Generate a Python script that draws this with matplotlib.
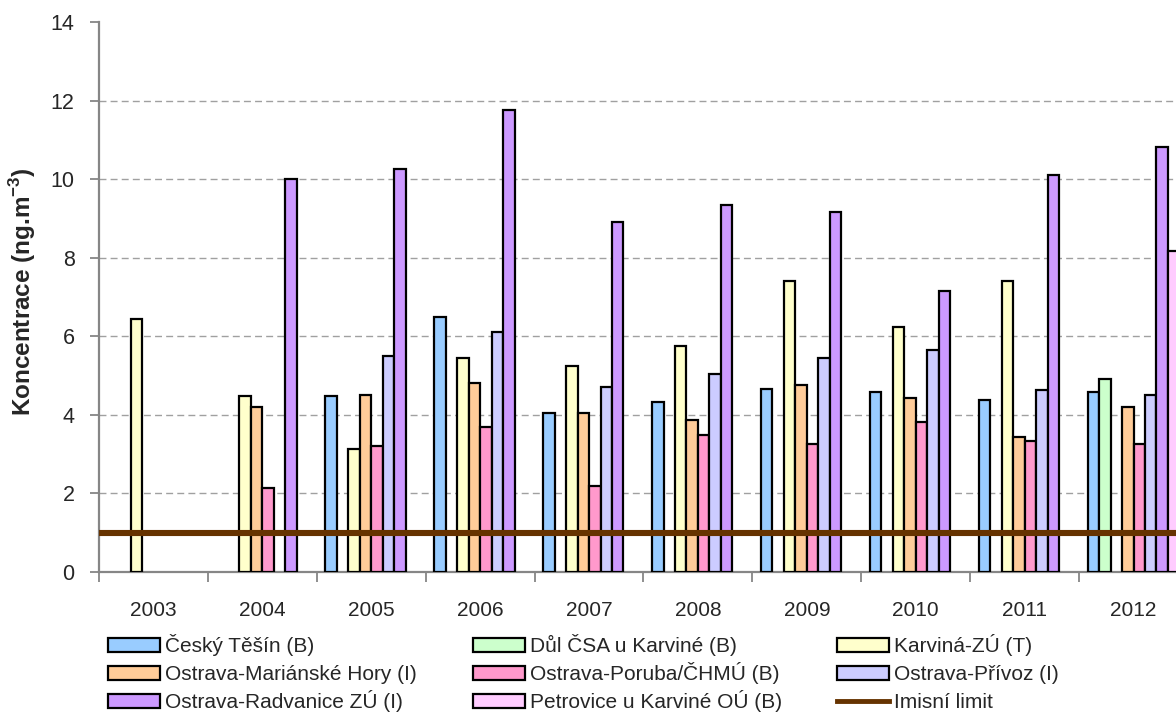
import numpy as np
import matplotlib
matplotlib.use("Agg")
import matplotlib.pyplot as plt
from matplotlib.patches import Rectangle
from matplotlib.lines import Line2D

plt.rcParams['font.family'] = ['Liberation Sans', 'DejaVu Sans']

years = ['2003', '2004', '2005', '2006', '2007', '2008', '2009', '2010', '2011', '2012']
series_names = ['Český Těšín (B)', 'Důl ČSA u Karviné (B)', 'Karviná-ZÚ (T)',
                'Ostrava-Mariánské Hory (I)', 'Ostrava-Poruba/ČHMÚ (B)', 'Ostrava-Přívoz (I)',
                'Ostrava-Radvanice ZÚ (I)', 'Petrovice u Karviné OÚ (B)']
nan = np.nan
cesky_tesin = [nan, nan, 4.48, 6.50, 4.05, 4.33, 4.67, 4.57, 4.37, 4.59]
dul_csa = [nan, nan, nan, nan, nan, nan, nan, nan, nan, 4.92]
karvina = [6.45, 4.48, 3.13, 5.45, 5.25, 5.75, 7.40, 6.23, 7.42, nan]
marianske_hory = [nan, 4.20, 4.50, 4.80, 4.05, 3.88, 4.75, 4.42, 3.44, 4.19]
poruba = [nan, 2.15, 3.22, 3.68, 2.20, 3.50, 3.27, 3.81, 3.34, 3.25]
privoz = [nan, nan, 5.50, 6.10, 4.72, 5.05, 5.45, 5.64, 4.63, 4.51]
radvanice = [nan, 10.00, 10.25, 11.75, 8.90, 9.35, 9.17, 7.16, 10.10, 10.82]
petrovice = [nan, nan, nan, nan, nan, nan, nan, nan, nan, 8.16]
limit_value = 1.0
limit_label = 'Imisní limit'

series_values = [cesky_tesin, dul_csa, karvina, marianske_hory, poruba, privoz, radvanice, petrovice]
colors = ['#99CCFF', '#CCFFCC', '#FFFFCC', '#FFCC99', '#FF99CC', '#CCCCFF', '#CC99FF', '#FFCCFF']
limit_color = '#663300'

W, H = 1176, 713
fig = plt.figure(figsize=(W / 100, H / 100), dpi=100)
ax = fig.add_axes([99 / W, (H - 572) / H, 1089 / W, 550 / H])

n = len(series_names)
bw = 1 / (n + 1.5)
x = np.arange(len(years))
for j, (vals, c) in enumerate(zip(series_values, colors)):
    v = np.array(vals, dtype=float)
    pos = x - 0.5 + 0.75 * bw + (j + 0.5) * bw
    ok = ~np.isnan(v)
    ax.bar(pos[ok], v[ok], width=bw, color=c,
           edgecolor='black', linewidth=1.6, zorder=3)

ax.axhline(limit_value, color=limit_color, linewidth=4.4, zorder=4)

ax.set_xlim(-0.5, len(years) - 0.5)
ax.set_ylim(0, 14)
ax.set_yticks(np.arange(0, 15, 2))
ax.set_xticks(x)
ax.set_xticklabels(years)
ax.set_xticks(np.arange(-0.5, len(years), 1.0), minor=True)
ax.tick_params(axis='x', which='major', length=0, pad=21, labelsize=15, labelcolor='#262626')
ax.tick_params(axis='x', which='minor', length=7, width=1.3, color='#868686', direction='out')
ax.tick_params(axis='y', length=6.5, width=1.3, color='#868686', pad=11, labelsize=15.5,
               labelcolor='#262626')

for yv in range(2, 14, 2):
    ax.axhline(yv, color='#A0A0A0', linewidth=1.0, linestyle=(0, (5, 3)), zorder=1)

for s in ['top', 'right']:
    ax.spines[s].set_visible(False)
for s in ['left', 'bottom']:
    ax.spines[s].set_color('#868686')
    ax.spines[s].set_linewidth(1.6)

ax.set_ylabel('Koncentrace (ng.m$^{\\mathregular{-3}}$)', fontsize=17.5, fontweight='bold',
              color='#262626')
ax.yaxis.set_label_coords(-0.056, 0.51)

# Legend drawn as a fixed grid (row-major order like the original)
labels = series_names + [limit_label]
col_x = [108, 473, 837]
row_y = [645, 673, 701]
for k, lab in enumerate(labels):
    r, cidx = divmod(k, 3)
    x0, yc = col_x[cidx], row_y[r]
    if k < len(colors):
        fig.add_artist(Rectangle((x0 / W, (H - yc - 7) / H), 52 / W, 14 / H,
                                 transform=fig.transFigure, facecolor=colors[k],
                                 edgecolor='black', linewidth=1.6))
    else:
        fig.add_artist(Line2D([x0 / W, (x0 + 52) / W], [(H - yc) / H, (H - yc) / H],
                              transform=fig.transFigure, color=limit_color, linewidth=3.5))
    fig.text((x0 + 57) / W, (H - yc - 7.4) / H, lab, fontsize=15, color='#262626',
             ha='left', va='baseline')

fig.savefig('out.png', dpi=100)
